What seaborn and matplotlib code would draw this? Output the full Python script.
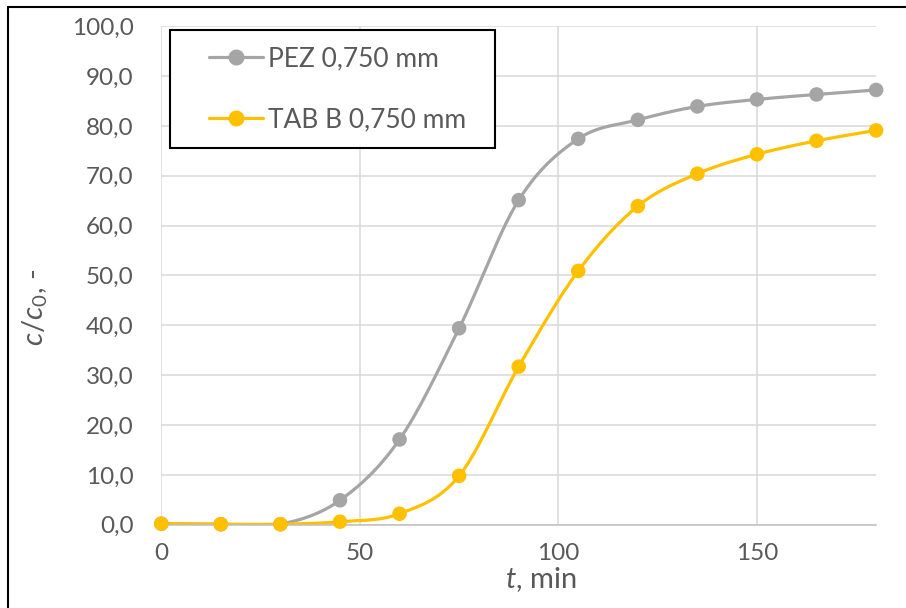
import numpy as np
import pandas as pd
import matplotlib
matplotlib.use("Agg")
import matplotlib.pyplot as plt
from matplotlib.lines import Line2D
from matplotlib.legend_handler import HandlerLine2D
import seaborn as sns

# data
t_min = [0, 15, 30, 45, 60, 75, 90, 105, 120, 135, 150, 165, 180]
pez = [0.2, 0.1, 0.1, 4.9, 17.1, 39.4, 65.1, 77.4, 81.2, 83.9, 85.3, 86.3, 87.2]
tab_b = [0.2, 0.1, 0.1, 0.6, 2.2, 9.8, 31.7, 50.9, 63.9, 70.4, 74.3, 77.0, 79.1]
series_names = ["PEZ 0,750 mm", "TAB B 0,750 mm"]
colors = ["#A5A5A5", "#FFC000"]
y_ticks = [0, 10, 20, 30, 40, 50, 60, 70, 80, 90, 100]
x_ticks = [0, 50, 100, 150]


def smooth(x, y, steps=30):
    # excel style smoothed line (catmull-rom bezier through the points)
    p = np.column_stack([x, y]).astype(float)
    p = np.vstack([p[0], p, p[-1]])
    out = []
    for i in range(1, len(p) - 2):
        p0, p1, p2, p3 = p[i - 1], p[i], p[i + 1], p[i + 2]
        c1 = p1 + (p2 - p0) / 6
        c2 = p2 - (p3 - p1) / 6
        s = np.linspace(0, 1, steps)[:, None]
        seg = (1 - s) ** 3 * p1 + 3 * (1 - s) ** 2 * s * c1 + 3 * (1 - s) * s ** 2 * c2 + s ** 3 * p2
        out.append(seg if i == 1 else seg[1:])
    return np.vstack(out)


sns.set_style("white")
plt.rcParams["font.family"] = ["Lato", "DejaVu Sans"]
plt.rcParams["mathtext.fontset"] = "custom"
plt.rcParams["mathtext.rm"] = "Lato"
plt.rcParams["mathtext.it"] = "Lato:italic"

pts = pd.DataFrame({
    "t": t_min * 2,
    "c": pez + tab_b,
    "serie": [series_names[0]] * len(t_min) + [series_names[1]] * len(t_min),
})
curves = []
for name, vals in zip(series_names, [pez, tab_b]):
    sm = smooth(t_min, vals)
    curves.append(pd.DataFrame({"t": sm[:, 0], "c": sm[:, 1], "serie": name}))
curves = pd.concat(curves, ignore_index=True)

palette = dict(zip(series_names, colors))

fig = plt.figure(figsize=(9.06, 6.08), dpi=100)
ax = fig.add_axes([0.178, 0.137, 0.789, 0.82])

sns.lineplot(data=curves, x="t", y="c", hue="serie", palette=palette, sort=False,
             estimator=None, lw=2.3, legend=False, ax=ax)
sns.scatterplot(data=pts, x="t", y="c", hue="serie", palette=palette, s=110,
                edgecolor="none", legend=False, ax=ax, zorder=5, clip_on=False)

ax.set_xlim(0, 180)
ax.set_ylim(0, 100)
ax.set_xticks(x_ticks)
ax.set_yticks(y_ticks)
ax.set_yticklabels([f"{v:.1f}".replace(".", ",") for v in y_ticks])
ax.tick_params(axis="both", length=0, labelsize=17.5, labelcolor="#595959")
ax.tick_params(axis="y", pad=20)
ax.tick_params(axis="x", pad=13)
ax.grid(True, color="#D9D9D9", lw=1.1)
ax.set_axisbelow(True)
for side in ["top", "right", "left"]:
    ax.spines[side].set_visible(False)
ax.spines["bottom"].set_color("#BFBFBF")
ax.spines["bottom"].set_linewidth(1.1)

ax.set_xlabel(r"$t$, min", fontsize=21, color="#595959")
ax.set_ylabel(r"$c/c_0$, -", fontsize=21, color="#595959")
ax.xaxis.set_label_coords(0.531, -0.082)
ax.yaxis.set_label_coords(-0.155, 0.437)

handles = [Line2D([0], [0], color=c, lw=2.3, marker="o", markersize=10.5) for c in colors]
labels = [n + "  " for n in series_names]
leg = ax.legend(handles, labels, loc="upper left", bbox_to_anchor=(0.0126, 0.992),
                borderaxespad=0, fontsize=19, frameon=True, fancybox=False,
                labelspacing=1.38, handlelength=2.9, handletextpad=0.2,
                borderpad=0.6, labelcolor="#595959",
                handler_map={Line2D: HandlerLine2D(xpad=0.85)})
leg.get_frame().set_edgecolor("black")
leg.get_frame().set_linewidth(1.5)
leg.get_frame().set_alpha(1)

# outer chart border
fig.add_artist(Line2D([0.009, 0.009], [0, 0.988], transform=fig.transFigure, color="black", lw=1.5))
fig.add_artist(Line2D([0.009, 1.0], [0.988, 0.988], transform=fig.transFigure, color="black", lw=1.5))

fig.savefig("out.png", dpi=100)
